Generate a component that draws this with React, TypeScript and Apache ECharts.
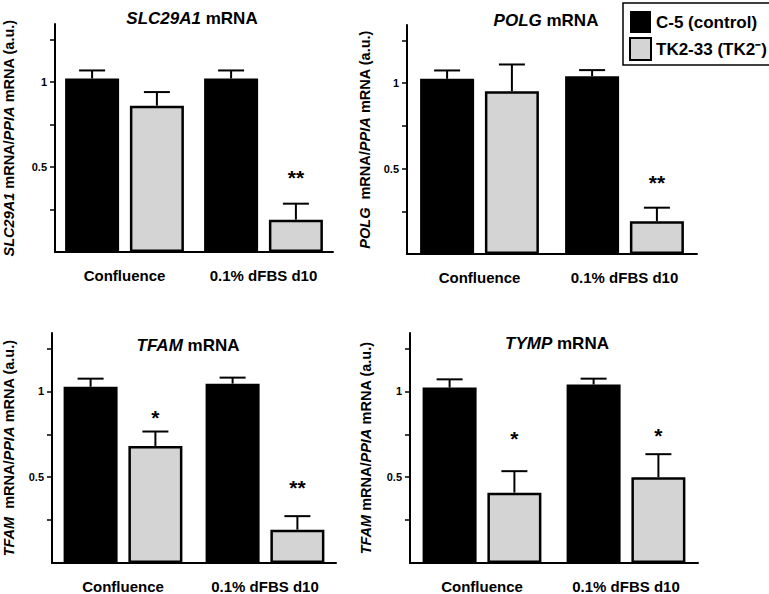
import React, { useEffect, useRef } from "react";
import * as echarts from "echarts";

const FONT = '"Liberation Sans", Arial, Helvetica, sans-serif';

const categories = ["Confluence", "0.1% dFBS d10"];
const seriesNames = ["C-5 (control)", "TK2-33 (TK2⁻)"];

// SLC29A1
const slcControl = [1.02, 1.02];
const slcControlErr = [0.047, 0.047];
const slcTk2 = [0.86, 0.19];
const slcTk2Err = [0.08, 0.094];
const slcStars = ["", "**"];
const slcStarY = [0, 0.47];

// POLG
const polgControl = [1.025, 1.04];
const polgControlErr = [0.049, 0.036];
const polgTk2 = [0.953, 0.192];
const polgTk2Err = [0.156, 0.079];
const polgStars = ["", "**"];
const polgStarY = [0, 0.449];

// TFAM
const tfamControl = [1.027, 1.045];
const tfamControlErr = [0.047, 0.035];
const tfamTk2 = [0.682, 0.194];
const tfamTk2Err = [0.084, 0.079];
const tfamStars = ["*", "**"];
const tfamStarY = [0.878, 0.471];

// TYMP
const tympControl = [1.022, 1.04];
const tympControlErr = [0.048, 0.034];
const tympTk2 = [0.41, 0.5];
const tympTk2Err = [0.125, 0.134];
const tympStars = ["*", "*"];
const tympStarY = [0.754, 0.773];

const yTicks = [0.25, 0.5, 0.75, 1, 1.25];
const yLabels = [0.5, 1];

const panels = [
  {
    title: "{i|SLC29A1} mRNA",
    yName: "{i|SLC29A1} mRNA/{i|PPIA} mRNA (a.u.)",
    control: slcControl, controlErr: slcControlErr, tk2: slcTk2, tk2Err: slcTk2Err,
    stars: slcStars, starY: slcStarY,
    grid: { left: 49, top: 24, width: 284, height: 228 }, titlePos: [192, 18], nameGap: 39,
  },
  {
    title: "{i|POLG} mRNA",
    yName: "{i|POLG}  mRNA/{i|PPIA} mRNA (a.u.)",
    control: polgControl, controlErr: polgControlErr, tk2: polgTk2, tk2Err: polgTk2Err,
    stars: polgStars, starY: polgStarY,
    grid: { left: 407, top: 25, width: 290, height: 229 }, titlePos: [546, 20], nameGap: 35,
  },
  {
    title: "{i|TFAM} mRNA",
    yName: "{i|TFAM}  mRNA/{i|PPIA} mRNA (a.u.)",
    control: tfamControl, controlErr: tfamControlErr, tk2: tfamTk2, tk2Err: tfamTk2Err,
    stars: tfamStars, starY: tfamStarY,
    grid: { left: 48, top: 333, width: 288, height: 231 }, titlePos: [188, 345], nameGap: 36,
  },
  {
    title: "{i|TYMP} mRNA",
    yName: "{i|TFAM} mRNA/{i|PPIA} mRNA (a.u.)",
    control: tympControl, controlErr: tympControlErr, tk2: tympTk2, tk2Err: tympTk2Err,
    stars: tympStars, starY: tympStarY,
    grid: { left: 410, top: 333, width: 288, height: 232 }, titlePos: [557, 343], nameGap: 37,
  },
];

const BAR_W = 54;
const BAR_GAP = 0.2;
const OFFSET = (BAR_W * (1 + BAR_GAP)) / 2;

function buildOption() {
  const grids: any[] = [];
  const xAxes: any[] = [];
  const yAxes: any[] = [];
  const series: any[] = [];
  const graphics: any[] = [];

  panels.forEach((p, i) => {
    grids.push({ ...p.grid, containLabel: false });
    xAxes.push({
      type: "category",
      gridIndex: i,
      data: categories,
      axisLine: { lineStyle: { color: "#000", width: 2 } },
      axisTick: { show: false },
      axisLabel: {
        color: "#000", fontWeight: "bold", fontSize: 15, margin: 16, fontFamily: FONT,
        interval: 0, hideOverlap: false,
      },
    });
    yAxes.push({
      type: "value",
      gridIndex: i,
      min: 0,
      max: 1.34,
      interval: 0.25,
      splitLine: { show: false },
      axisLine: { show: true, lineStyle: { color: "#000", width: 2 } },
      axisTick: { show: true, length: 5, lineStyle: { color: "#000", width: 1.5 }, customValues: yTicks },
      axisLabel: { color: "#000", fontWeight: "bold", fontSize: 11, margin: 8, fontFamily: FONT, customValues: yLabels },
      name: p.yName,
      nameLocation: "middle",
      nameGap: p.nameGap,
      nameRotate: 90,
      nameTextStyle: {
        color: "#000",
        fontWeight: "bold",
        fontSize: 14.5,
        fontFamily: FONT,
        rich: { i: { fontStyle: "italic", fontWeight: "bold", fontSize: 14.5, fontFamily: FONT, color: "#000" } },
      },
    });
    series.push({
      type: "bar",
      name: seriesNames[0],
      xAxisIndex: i,
      yAxisIndex: i,
      data: p.control,
      barWidth: BAR_W,
      barGap: BAR_GAP * 100 + "%",
      itemStyle: { color: "#000" },
    });
    series.push({
      type: "bar",
      name: seriesNames[1],
      xAxisIndex: i,
      yAxisIndex: i,
      data: p.tk2,
      barWidth: BAR_W,
      barGap: BAR_GAP * 100 + "%",
      itemStyle: { color: "#d4d4d4", borderColor: "#000", borderWidth: 2.5 },
    });
    const errData: any[] = [];
    p.control.forEach((v, k) => errData.push([k, v, p.controlErr[k], 0]));
    p.tk2.forEach((v, k) => errData.push([k, v, p.tk2Err[k], 1]));
    series.push({
      type: "custom",
      xAxisIndex: i,
      yAxisIndex: i,
      z: 5,
      data: errData,
      renderItem: (params: any, api: any) => {
        const cat = api.value(0);
        const mean = api.value(1);
        const err = api.value(2);
        const side = api.value(3);
        const p0 = api.coord([cat, mean]);
        const p1 = api.coord([cat, mean + err]);
        const x = p0[0] + (side ? OFFSET : -OFFSET);
        const style = { stroke: "#000", lineWidth: 2 };
        return {
          type: "group",
          children: [
            { type: "line", shape: { x1: x, y1: p0[1], x2: x, y2: p1[1] }, style },
            { type: "line", shape: { x1: x - 13, y1: p1[1], x2: x + 13, y2: p1[1] }, style },
          ],
        };
      },
    });
    const starData: any[] = [];
    p.stars.forEach((s, k) => {
      if (s) starData.push([k, p.starY[k], s]);
    });
    series.push({
      type: "custom",
      xAxisIndex: i,
      yAxisIndex: i,
      z: 6,
      data: starData,
      renderItem: (params: any, api: any) => {
        const cat = api.value(0);
        const y = api.value(1);
        const txt = starData[params.dataIndex][2];
        const pt = api.coord([cat, y]);
        return {
          type: "text",
          x: pt[0] + OFFSET,
          y: pt[1] + 5,
          style: {
            text: txt,
            fill: "#000",
            fontSize: 21,
            fontWeight: "bold",
            fontFamily: FONT,
            align: "center",
            verticalAlign: "middle",
          },
        };
      },
    });
    graphics.push({
      type: "text",
      x: p.titlePos[0],
      y: p.titlePos[1],
      style: {
        text: p.title,
        fill: "#000",
        fontSize: 17,
        fontWeight: "bold",
        fontFamily: FONT,
        align: "center",
        verticalAlign: "middle",
        rich: { i: { fontStyle: "italic", fontWeight: "bold", fontSize: 17, fontFamily: FONT, fill: "#000" } },
      },
    });
  });

  return {
    animation: false,
    backgroundColor: "#fff",
    grid: grids,
    xAxis: xAxes,
    yAxis: yAxes,
    series,
    graphic: graphics,
    legend: {
      data: seriesNames,
      orient: "vertical",
      left: 623,
      top: 3,
      padding: [8, 6, 4, 6],
      itemWidth: 21,
      itemHeight: 22,
      itemGap: 4,
      icon: "rect",
      selectedMode: false,
      borderColor: "#000",
      borderWidth: 1.5,
      textStyle: { color: "#000", fontSize: 17, fontWeight: "bold", fontFamily: FONT },
    },
  };
}

export default function App() {
  const ref = useRef<HTMLDivElement>(null);
  useEffect(() => {
    if (!ref.current) return;
    const chart = echarts.init(ref.current, null, { renderer: "svg" });
    chart.setOption(buildOption() as any);
    return () => chart.dispose();
  }, []);
  return (
    <div
      ref={ref}
      style={{ position: "fixed", left: 0, top: 0, width: 769, height: 594, background: "#fff" }}
    />
  );
}
